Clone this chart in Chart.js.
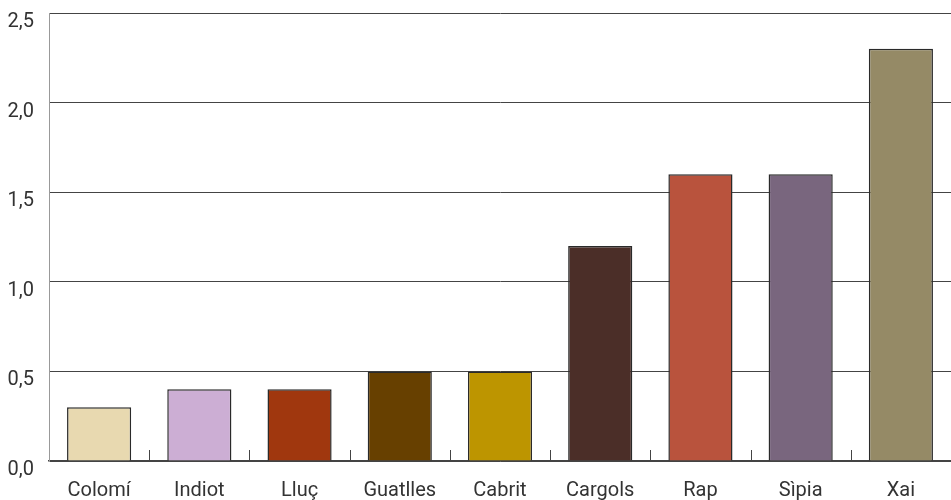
<!DOCTYPE html>
<html>
<head>
<meta charset="utf-8">
<script src="https://cdn.jsdelivr.net/npm/chart.js@4/dist/chart.umd.min.js"></script>
<style>
  html, body { margin: 0; padding: 0; background: #fff; }
  #wrap { width: 951px; height: 500px; }
</style>
</head>
<body>
<div id="wrap"><canvas id="grafica"></canvas></div>
<script>
// dades
const categories = ['Colomí', 'Indiot', 'Lluç', 'Guatlles', 'Cabrit', 'Cargols', 'Rap', 'Sìpia', 'Xai'];
const valors = [0.3, 0.4, 0.4, 0.5, 0.5, 1.2, 1.6, 1.6, 2.3];
const colors = ['#e8d9b0', '#ccaed4', '#a0370e', '#674000', '#bd9500', '#4b2e28', '#b9533d', '#79667e', '#958a66'];

// marques curtes entre categories, cap amunt des de l'eix
const marquesX = {
    id: 'marquesX',
    afterDatasetsDraw(chart) {
        const x = chart.scales.x, ctx = chart.ctx, base = chart.chartArea.bottom;
        ctx.save();
        ctx.strokeStyle = '#444';
        ctx.lineWidth = 1;
        for (let i = 0; i < categories.length - 1; i++) {
            const px = Math.round((x.getPixelForValue(i) + x.getPixelForValue(i + 1)) / 2) + 0.5;
            ctx.beginPath(); ctx.moveTo(px, base); ctx.lineTo(px, base - 11); ctx.stroke();
        }
        ctx.restore();
    }
};

const font = { family: 'Roboto', size: 20, weight: 400 };

new Chart(document.getElementById('grafica'), {
    type: 'bar',
    data: {
        labels: categories,
        datasets: [{ data: valors, backgroundColor: colors, borderColor: '#2a2a2a', borderWidth: 1.5,
            barPercentage: 0.64, categoryPercentage: 1 }]
    },
    options: {
        responsive: true, maintainAspectRatio: false, animation: false,
        layout: { padding: { top: 13, right: 0 } },
        plugins: { legend: { display: false }, tooltip: { enabled: false } },
        scales: {
            x: {
                grid: { display: false },
                border: { color: '#444', width: 1.5 },
                ticks: { color: '#333', font, padding: 10, maxRotation: 0 },
                afterFit: s => { s.height = 39; s.paddingLeft = 0; s.paddingRight = 0; }
            },
            y: {
                min: 0, max: 2.5,
                grid: { color: '#444', lineWidth: 1, drawTicks: false },
                border: { color: '#999', width: 1 },
                ticks: { stepSize: 0.5, color: '#333', font, padding: 15, labelOffset: 9,
                    callback: v => v.toFixed(1).replace('.', ',') },
                afterFit: s => { s.width = 49; s.paddingTop = 0; s.paddingBottom = 0; }
            }
        }
    },
    plugins: [marquesX]
});
</script>
</body>
</html>
